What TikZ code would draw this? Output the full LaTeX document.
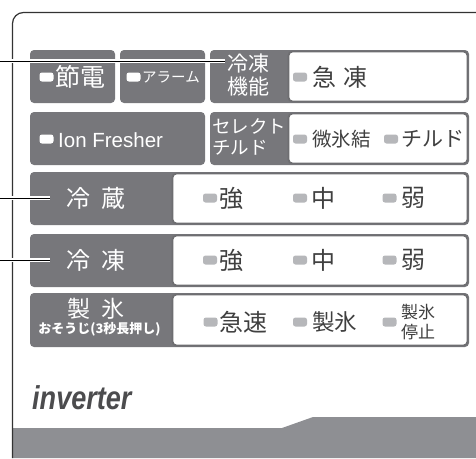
\documentclass[tikz,border=0pt]{standalone}
\usepackage{fontspec}
\usepackage{graphicx}
\setmainfont{Liberation Sans}
\newfontfamily\jp{Noto Sans CJK JP}
\definecolor{labelgray}{HTML}{77777B}
\definecolor{bordergray}{HTML}{6E6E71}
\definecolor{bandgray}{HTML}{8E8F93}
\definecolor{ledgray}{HTML}{B6B7BA}
\definecolor{textdark}{HTML}{404040}
\definecolor{framec}{HTML}{333333}
\definecolor{invgray}{HTML}{4C4C4E}
\tikzset{
  graybox/.style={fill=labelgray, rounded corners=4pt},
  whitebox/.style={fill=white, draw=bordergray, line width=1.8pt, rounded corners=4pt},
  led/.style={rounded corners=2.5pt, minimum width=14pt, minimum height=9pt, inner sep=0pt},
  ledw/.style={led, fill=white},
  ledg/.style={led, fill=ledgray},
  wt/.style={text=white, inner sep=0pt},
  dt/.style={text=textdark, inner sep=0pt},
  callout/.style={draw=black, line width=1pt, preaction={draw=white, line width=3.5pt}},
}
\newcommand{\fs}[1]{\fontsize{#1}{#1}\selectfont}
\begin{document}
\begin{tikzpicture}[x=1pt,y=-1pt]
\useasboundingbox (0,0) rectangle (476,458);
% bottom band
\fill[bandgray] (12.5,428) -- (282,428) -- (313,417) -- (476,417) -- (476,458) -- (12.5,458) -- cycle;
% frame
\draw[framec, line width=1.2pt, rounded corners=11pt] (476,12.5) -- (12.5,12.5) -- (12.5,458);
% row 1
\fill[graybox] (30,50) rectangle (115,103);
\fill[graybox] (120,50) rectangle (205,103);
\fill[graybox] (210,50) rectangle (469,103);
\draw[whitebox] (288.5,51.5) rectangle (467.5,101.5);
% row 2
\fill[graybox] (30,112) rectangle (205,165);
\fill[graybox] (210,112) rectangle (469,165);
\draw[whitebox] (288.5,113.5) rectangle (467.5,163.5);
% rows 3-5
\fill[graybox] (30,172) rectangle (469,225);
\draw[whitebox] (172.5,173.5) rectangle (467.5,223.5);
\fill[graybox] (30,234) rectangle (469,287);
\draw[whitebox] (172.5,235.5) rectangle (467.5,285.5);
\fill[graybox] (30,293) rectangle (469,347);
\draw[whitebox] (172.5,294.5) rectangle (467.5,345.5);
% row 1 texts
\node[ledw] (l1) at (46.5,77) {};
\node[wt, anchor=west, font=\jp\fs{25}] (setsuden) at (55.5,77) {節電};
\node[ledw] (l2) at (133.5,77) {};
\node[wt, anchor=west, font=\jp\fs{14.5}] (alarm) at (142,77) {アラーム};
\node[wt, anchor=west, align=left, font=\jp\fontsize{21}{23}\selectfont] (reitoukinou) at (227.5,75.5) {冷凍\\機能};
\node[ledg] (l3) at (300,77) {};
\node[dt, anchor=west, font=\jp\fs{24}] (kyuutou) at (312,77) {急\hspace{7pt}凍};
% row 2 texts
\node[ledw] (l4) at (46.5,139) {};
\node[wt, anchor=west, font=\fs{20.5}] (ion) at (58,140) {Ion Fresher};
\node[wt, anchor=west, align=left, font=\jp\fontsize{18.5}{21}\selectfont] (select) at (212,137) {セレクト\\チルド};
\node[ledg] (l5) at (300,139) {};
\node[dt, anchor=west, font=\jp\fs{19.5}] (bihyouketsu) at (312,139) {微氷結};
\node[ledg] (l6) at (391,139) {};
\node[dt, anchor=west, font=\jp\fs{21}] (chilled) at (401,139) {チルド};
% row 3
\node[wt, anchor=west, font=\jp\fs{24}] (reizou) at (66,198) {冷\hspace{11pt}蔵};
\node[ledg] (l7) at (210,198) {};
\node[dt, anchor=west, font=\jp\fs{24}] (kyou1) at (219,198) {強};
\node[ledg] (l8) at (300,198) {};
\node[dt, anchor=west, font=\jp\fs{24}] (chuu1) at (311,198) {中};
\node[ledg] (l9) at (389.5,198) {};
\node[dt, anchor=west, font=\jp\fs{24}] (jaku1) at (401,198) {弱};
% row 4
\node[wt, anchor=west, font=\jp\fs{24}] (reitou) at (66,260) {冷\hspace{11pt}凍};
\node[ledg] (l10) at (210,260) {};
\node[dt, anchor=west, font=\jp\fs{24}] (kyou2) at (219,260) {強};
\node[ledg] (l11) at (300,260) {};
\node[dt, anchor=west, font=\jp\fs{24}] (chuu2) at (311,260) {中};
\node[ledg] (l12) at (389.5,260) {};
\node[dt, anchor=west, font=\jp\fs{24}] (jaku2) at (401,260) {弱};
% row 5
\node[wt, font=\jp\fs{23}] (seihyou) at (96,309) {製\hspace{12pt}氷};
\node[wt, font=\jp\bfseries\fs{13}] (osouji) at (99.5,329) {おそうじ(3秒長押し)};
\node[ledg] (l13) at (210.5,322) {};
\node[dt, anchor=west, font=\jp\fs{24}] (kyuusoku) at (219,322) {急速};
\node[ledg] (l14) at (300,322) {};
\node[dt, anchor=west, font=\jp\fs{22.5}] (seihyou2) at (312,322) {製氷};
\node[ledg] (l15) at (389.5,322) {};
\node[dt, anchor=west, align=left, font=\jp\fontsize{17}{20}\selectfont] (teishi) at (401,322) {製氷\\停止};
% logo
\node[anchor=west, inner sep=0pt, text=invgray, font=\fs{33}\bfseries\itshape] (inverter) at (32,398) {\scalebox{0.82}[1]{inverter}};
% callouts
\coordinate (c1s) at (0,61);
\coordinate (c1e) at (225,61);
\coordinate (c2s) at (0,198);
\coordinate (c2e) at (50,198);
\coordinate (c3s) at (0,260);
\coordinate (c3e) at (50,260);
\draw[callout] (c1s) -- (c1e);
\draw[callout] (c2s) -- (c2e);
\draw[callout] (c3s) -- (c3e);
\end{tikzpicture}
\end{document}
